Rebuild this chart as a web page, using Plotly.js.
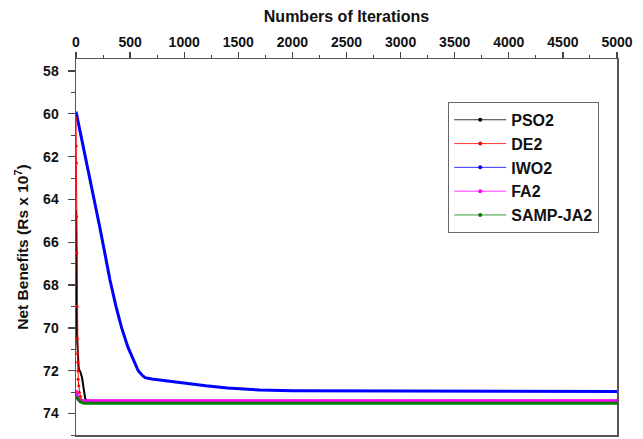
<!DOCTYPE html>
<html>
<head>
<meta charset="utf-8">
<script src="https://cdn.plot.ly/plotly-3.0.1.min.js"></script>
<style>html,body{margin:0;padding:0;background:#fff}#chart{width:643px;height:439px}</style>
</head>
<body>
<div id="chart"></div>
<script>
// Series names
var seriesNames = ["PSO2", "DE2", "IWO2", "FA2", "SAMP-JA2"];
var seriesColors = ["#000000", "#ff0000", "#0000ff", "#ff00ff", "#008000"];

// PSO2
var psoX = [0, 10, 25, 40, 55, 65, 75, 85, 100, 5000];
var psoY = [64.5, 70.5, 71.9, 72.05, 72.3, 72.7, 73.0, 73.3, 73.4, 73.4];
// DE2
var deX = [0, 2, 4, 6, 8, 10, 12, 14, 16, 18, 20, 25, 30, 40, 50, 60, 5000];
var deY = [60.2, 61.5, 62.3, 64.8, 66.5, 69.0, 70.5, 71.2, 71.6, 72.0, 72.4, 72.7, 73.0, 73.2, 73.35, 73.4, 73.4];
// IWO2
var iwoX = [0, 50, 100, 160, 220, 270, 314, 370, 422, 480, 540, 575, 610, 638, 700, 800, 1000, 1200, 1400, 1700, 2000, 3000, 4000, 5000];
var iwoY = [59.9, 61.1, 62.4, 63.87, 65.3, 66.6, 67.76, 69.0, 70.0, 70.9, 71.6, 72.0, 72.2, 72.32, 72.38, 72.45, 72.58, 72.7, 72.8, 72.9, 72.93, 72.95, 72.96, 72.97];
// FA2
var faX = [0, 10, 20, 30, 5000];
var faY = [72.9, 73.2, 73.35, 73.4, 73.4];
// SAMP-JA2
var sampX = [0, 20, 40, 60, 80, 5000];
var sampY = [73.2, 73.35, 73.45, 73.5, 73.52, 73.52];

// Axis ticks
var xTickVals = [0, 500, 1000, 1500, 2000, 2500, 3000, 3500, 4000, 4500, 5000];
var yTickVals = [58, 60, 62, 64, 66, 68, 70, 72, 74];

var data = [
  {x: iwoX, y: iwoY, mode: "lines", line: {color: seriesColors[2], width: 3}, showlegend: false},
  {x: psoX, y: psoY, mode: "lines", line: {color: seriesColors[0], width: 2}, showlegend: false},
  {x: deX, y: deY, mode: "lines+markers", line: {color: seriesColors[1], width: 1}, marker: {size: 3, color: seriesColors[1]}, showlegend: false},
  {x: faX, y: faY, mode: "lines", line: {color: seriesColors[3], width: 3}, showlegend: false},
  {x: sampX, y: sampY, mode: "lines", line: {color: seriesColors[4], width: 3}, showlegend: false}
];
// legend-only entries (thin line with a dot)
for (var i = 0; i < seriesNames.length; i++) {
  data.push({x: [null], y: [null], name: seriesNames[i], mode: "lines+markers",
    line: {color: seriesColors[i], width: 0.8}, marker: {size: 4, color: seriesColors[i]}, showlegend: true});
}

var fontFam = "Liberation Sans, Arial, sans-serif";
var layout = {
  width: 643, height: 439,
  margin: {l: 76, r: 26, t: 59, b: 4},
  paper_bgcolor: "#fff", plot_bgcolor: "#fff",
  font: {family: fontFam, size: 14, color: "#111"},
  xaxis: {
    side: "top", range: [0, 5000], tickvals: xTickVals,
    ticks: "outside", ticklen: 6, tickwidth: 1.3, tickcolor: "#444",
    minor: {dtick: 250, ticks: "outside", ticklen: 3, tickwidth: 1, tickcolor: "#444"},
    showline: true, linecolor: "#555", linewidth: 1.5, mirror: true,
    showgrid: false, zeroline: false,
    ticklabelstandoff: -1,
    tickfont: {family: fontFam, size: 14, weight: "bold", color: "#111"},
    title: {text: "<b>Numbers of Iterations</b>", font: {family: fontFam, size: 16, color: "#111"}, standoff: 7}
  },
  yaxis: {
    range: [75.0, 57.44], tickvals: yTickVals,
    ticks: "outside", ticklen: 7, tickwidth: 1.3, tickcolor: "#444",
    minor: {dtick: 1, ticks: "outside", ticklen: 4, tickwidth: 1, tickcolor: "#444"},
    showline: true, linecolor: "#555", linewidth: 1.5, mirror: true,
    showgrid: false, zeroline: false,
    ticklabelstandoff: 6,
    tickfont: {family: fontFam, size: 14, weight: "bold", color: "#111"},
    title: {text: "<b>Net Benefits (Rs x 10<sup>7</sup>)</b>", font: {family: fontFam, size: 15.5, color: "#111"}, standoff: 10}
  },
  legend: {
    x: 0.688, y: 0.886, xanchor: "left", yanchor: "top",
    bgcolor: "#fff", bordercolor: "#666", borderwidth: 1,
    font: {family: fontFam, size: 16, weight: "bold", color: "#111"},
    tracegroupgap: 0, itemwidth: 52
  },
  showlegend: true
};

Plotly.newPlot("chart", data, layout, {displayModeBar: false, staticPlot: true});
</script>
</body>
</html>
